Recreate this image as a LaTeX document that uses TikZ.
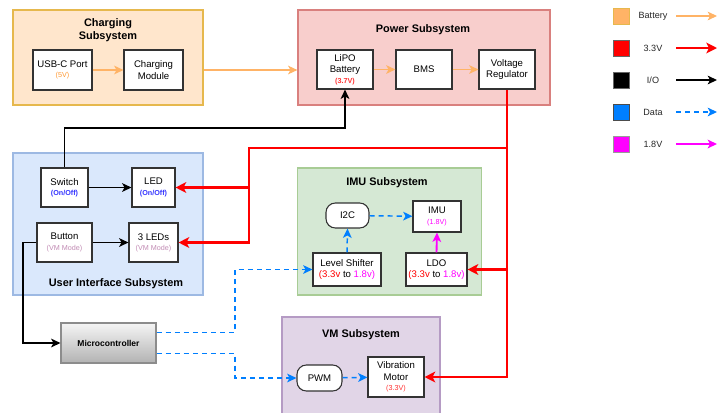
\documentclass[tikz,border=0pt]{standalone}
\usepackage{fontspec}
\setmainfont{Liberation Sans}
\usetikzlibrary{arrows.meta,calc,positioning}
\definecolor{chgfill}{HTML}{FFE6CC}\definecolor{chgline}{HTML}{E6B84D}
\definecolor{pwrfill}{HTML}{F8CECC}\definecolor{pwrline}{HTML}{D9807E}
\definecolor{uifill}{HTML}{DAE8FC}\definecolor{uiline}{HTML}{9DB9E3}
\definecolor{imufill}{HTML}{D5E8D4}\definecolor{imuline}{HTML}{A8CC95}
\definecolor{vmfill}{HTML}{E1D5E7}\definecolor{vmline}{HTML}{B59BC4}
\definecolor{batcol}{HTML}{FFB366}
\definecolor{vred}{HTML}{FF0000}
\definecolor{datablue}{HTML}{007FFF}
\definecolor{vmag}{HTML}{FF00FF}
\definecolor{onoff}{HTML}{3333FF}
\definecolor{vmmode}{HTML}{C28BB4}
\definecolor{fivev}{HTML}{FF9933}
\definecolor{redtxt}{HTML}{FF3333}
\newcommand{\upx}{0.75pt}
\newcommand{\mainsz}{\fontsize{7.2}{8.6}\selectfont}
\newcommand{\subsz}{\fontsize{5.4}{6.6}\selectfont}
\newcommand{\titlesz}{\fontsize{8.2}{9.8}\selectfont\bfseries}
\tikzset{
  group/.style={draw, line width=0.9pt, inner sep=0pt},
  blk/.style={draw=black!80, fill=white, line width=0.8pt, inner sep=1pt, align=center, font=\mainsz},
  rblk/.style={blk, rounded corners=7pt},
  ttl/.style={font=\titlesz, align=center, inner sep=0pt},
  tip/.style={-{Stealth[length=7pt,width=6.5pt,inset=1.8pt]}},
  bigtip/.style={-{Stealth[length=8pt,width=8pt,inset=2pt]}},
  batt/.style={tip, batcol, line width=1.1pt},
  v33/.style={bigtip, vred, line width=1.9pt},
  io/.style={tip, black, line width=1.4pt},
  data/.style={tip, datablue, line width=1.1pt, dash pattern=on 3.8pt off 3pt},
  v18/.style={tip, vmag, line width=1.4pt},
  lsq/.style={draw=black!60, line width=0.6pt, minimum width=12pt, minimum height=12pt, inner sep=0pt},
  ltxt/.style={font=\fontsize{6.8}{8}\selectfont, inner sep=0pt, text=black!85},
}
\begin{document}
\begin{tikzpicture}[x=0.75pt, y=-0.75pt]
\useasboundingbox (0,0) rectangle (717,412);
\clip (0,0) rectangle (717,412);

% containers
\node[group, draw=chgline, fill=chgfill, minimum width=190*\upx, minimum height=95*\upx] (charging) at (108,57.5) {};
\node[group, draw=pwrline, fill=pwrfill, minimum width=252*\upx, minimum height=95*\upx] (power) at (424,57.5) {};
\node[group, draw=uiline, fill=uifill, minimum width=190*\upx, minimum height=142*\upx] (ui) at (108,224) {};
\node[group, draw=imuline, fill=imufill, minimum width=184*\upx, minimum height=127*\upx] (imusub) at (389.5,231.5) {};
\node[group, draw=vmline, fill=vmfill, minimum width=158*\upx, minimum height=110*\upx] (vmsub) at (361,372) {};

% titles
\node[ttl] (tchg) at (108,30) {Charging\\Subsystem};
\node[ttl] (tpwr) at (423,30) {Power Subsystem};
\node[ttl] (tui) at (116,284) {User Interface Subsystem};
\node[ttl] (timu) at (387,183) {IMU Subsystem};
\node[ttl] (tvm) at (361,335) {VM Subsystem};

% charging
\node[blk, minimum width=59*\upx, minimum height=40*\upx] (usb) at (62.5,70) {USB-C Port\\[-1pt]{\subsz\textcolor{fivev}{(5V)}}};
\node[blk, minimum width=59*\upx, minimum height=40*\upx] (chgmod) at (153.5,70) {Charging\\Module};

% power
\node[blk, minimum width=56*\upx, minimum height=39*\upx] (lipo) at (345,69.5) {LiPO\\Battery\\[-1pt]{\subsz\bfseries\textcolor{redtxt}{(3.7V)}}};
\node[blk, minimum width=56*\upx, minimum height=39*\upx] (bms) at (424,69.5) {BMS};
\node[blk, minimum width=56*\upx, minimum height=39*\upx] (vreg) at (507,69.5) {Voltage\\Regulator};

% UI
\node[blk, minimum width=47*\upx, minimum height=39*\upx] (switch) at (64.5,187.5) {Switch\\[-1pt]{\subsz\bfseries\textcolor{onoff}{(On/Off)}}};
\node[blk, minimum width=43*\upx, minimum height=39*\upx] (led) at (153.5,187.5) {LED\\[-1pt]{\subsz\bfseries\textcolor{onoff}{(On/Off)}}};
\node[blk, minimum width=55*\upx, minimum height=39*\upx] (button) at (64.5,242.5) {Button\\[-1pt]{\subsz\textcolor{vmmode}{(VM Mode)}}};
\node[blk, minimum width=49*\upx, minimum height=39*\upx] (leds3) at (153.5,242.5) {3 LEDs\\[-1pt]{\subsz\textcolor{vmmode}{(VM Mode)}}};

% IMU
\node[rblk, minimum width=43*\upx, minimum height=25*\upx] (i2c) at (347.5,215.5) {I2C};
\node[blk, minimum width=48*\upx, minimum height=31*\upx] (imu) at (437,216.5) {IMU\\[-1pt]{\subsz\textcolor{vmag}{(1.8V)}}};
\node[blk, minimum width=68*\upx, minimum height=33*\upx] (ls) at (347,269.5) {Level Shifter\\\textcolor{vred}{(3.3v} to \textcolor{vmag}{1.8v)}};
\node[blk, minimum width=61*\upx, minimum height=33*\upx] (ldo) at (436.5,269.5) {LDO\\\textcolor{vred}{(3.3v} to \textcolor{vmag}{1.8v)}};

% micro
\node[draw=black!45, line width=0.8pt, top color=black!4, bottom color=black!30, minimum width=95*\upx, minimum height=40*\upx, font=\fontsize{6.4}{7.6}\selectfont\bfseries, inner sep=0pt] (micro) at (108.5,343) {Microcontroller};

% VM
\node[rblk, minimum width=45*\upx, minimum height=26*\upx] (pwm) at (319.5,378) {PWM};
\node[blk, minimum width=56*\upx, minimum height=40*\upx] (vmotor) at (396,377) {Vibration\\Motor\\[-1pt]{\subsz\textcolor{redtxt}{(3.3V)}}};

% battery connectors
\draw[batt] (usb) -- (chgmod);
\draw[batt] (charging.east |- usb.east) -- (power.west |- usb.east);
\draw[batt] (lipo) -- (bms);
\draw[batt] (bms) -- (vreg);

% I/O
\coordinate (jb) at (345,128);
\draw[io] (switch.north) |- (jb) -- (lipo.south);
\draw[io] (switch) -- (led);
\draw[io] (button) -- (leds3);
\coordinate (jm) at (23,343);
\draw[io] (button.west) -| (jm) -- (micro.west);

% 3.3V
\draw[v33] (vreg.south) |- (vmotor.east);
\coordinate (r1) at (507,148);
\coordinate (r2) at (249,148);
\draw[v33] (r1) -- (r2) |- (leds3.east);
\draw[v33] (r2 |- led.east) -- (led.east);
\draw[v33] (vreg.south |- ldo.east) -- (ldo.east);

% data
\coordinate (bx) at (235,300);
\draw[data] ($(micro.north east)+(0,10)$) -| (ls.west -| bx) -- (ls.west);
\draw[data] ($(micro.south east)+(0,-10)$) -| (pwm.west -| bx) -- (pwm.west);
\draw[data] (pwm) -- (vmotor);
\draw[data] (ls.north) -- (i2c.south);
\draw[data] (i2c) -- (imu);

% 1.8V
\draw[v18] (ldo.north) -- (imu.south);

% legend
\node[lsq, fill=batcol, draw=chgline] (sq1) at (621,16) {};
\node[lsq, fill=vred, draw=black!60] (sq2) at (621,48) {};
\node[lsq, fill=black] (sq3) at (621,80) {};
\node[lsq, fill=datablue, draw=black!70] (sq4) at (621,112) {};
\node[lsq, fill=vmag, draw=black!40] (sq5) at (621,144) {};
\node[ltxt] (l1) at (653,16) {Battery};
\node[ltxt] (l2) at (653,48) {3.3V};
\node[ltxt] (l3) at (653,80) {I/O};
\node[ltxt] (l4) at (653,112) {Data};
\node[ltxt] (l5) at (653,144) {1.8V};
\coordinate (a1s) at (676,16); \coordinate (a1e) at (717,16);
\coordinate (a2s) at (676,48); \coordinate (a2e) at (717,48);
\coordinate (a3s) at (676,80); \coordinate (a3e) at (717,80);
\coordinate (a4s) at (676,112); \coordinate (a4e) at (717,112);
\coordinate (a5s) at (676,144); \coordinate (a5e) at (717,144);
\draw[batt, line width=0.8pt] (a1s) -- (a1e);
\draw[v33] (a2s) -- (a2e);
\draw[io, line width=1.1pt] (a3s) -- (a3e);
\draw[data] (a4s) -- (a4e);
\draw[v18] (a5s) -- (a5e);
\end{tikzpicture}
\end{document}
